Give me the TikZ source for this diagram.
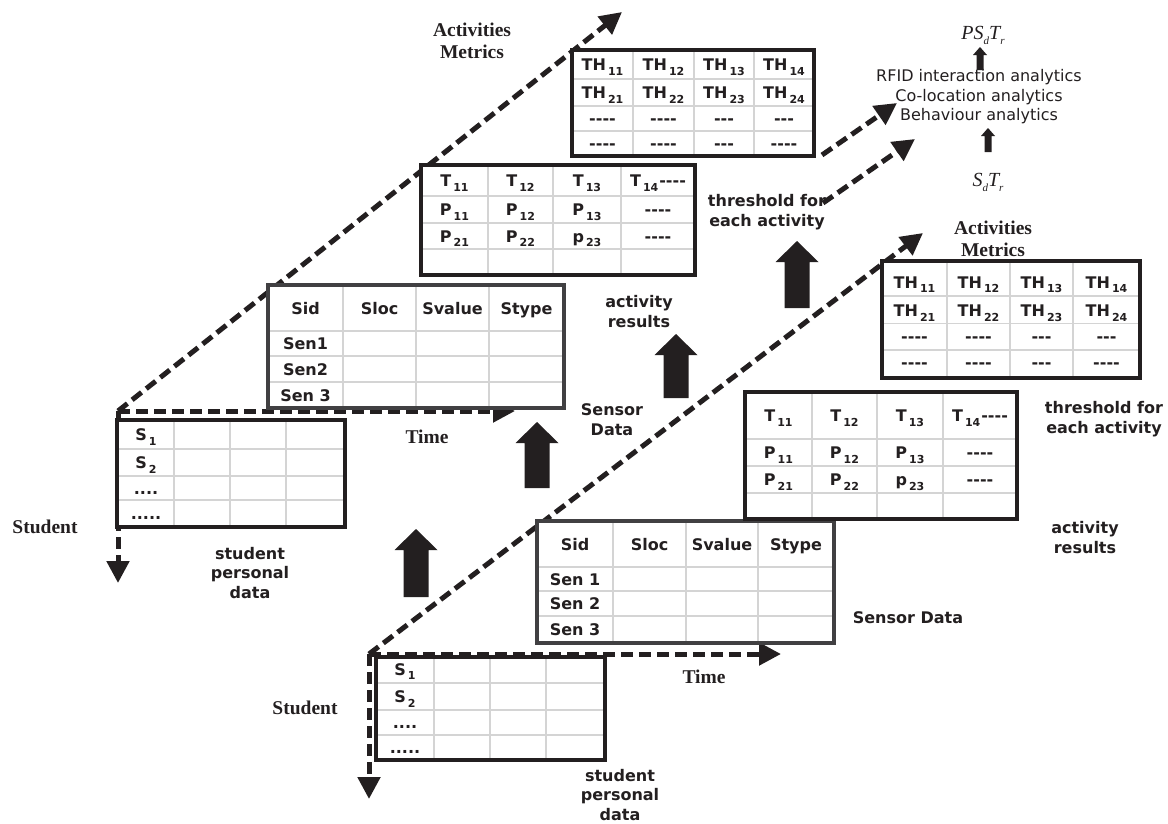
\documentclass[tikz,border=0pt]{standalone}
\usepackage{fontspec}
\setmainfont{Liberation Serif}
\newfontfamily\dvs{DejaVu Sans}
\usetikzlibrary{arrows.meta}
\definecolor{ink}{HTML}{231F20}
\definecolor{gridc}{HTML}{D4D4D4}
\definecolor{sfr}{HTML}{414042}
\newcommand\subs[1]{\kern2pt\raisebox{-4.5pt}[0pt][0pt]{\fontsize{11}{11}\selectfont #1}}
\newcommand\msub[1]{\raisebox{-4.5pt}[0pt][0pt]{\fontsize{11}{11}\selectfont #1}}
\newcommand\tbl[8]{%
  \fill[white] (#2,#3) rectangle (#4,#5);
  \foreach \xx in {#6} \draw[gridline] (\xx,#3) -- (\xx,#5);
  \foreach \yy in {#7} \draw[gridline] (#2,\yy) -- (#4,\yy);
  \draw[draw=#8, line width=4pt] (#2,#3) rectangle (#4,#5);
  \path (#2,#3) coordinate (#1-nw) (#4,#5) coordinate (#1-se);
}
\newcommand\cell[4]{\node[tcell] (#1) at (#2,#3) {#4};}
\newcommand\bigup[4]{\fill[ink] (#2-12.5,#3) -- (#2-12.5,#4+21) -- (#2-21.5,#4+21) -- (#2,#4) -- (#2+21.5,#4+21) -- (#2+12.5,#4+21) -- (#2+12.5,#3) -- cycle coordinate (#1);}
\newcommand\smallup[4]{\fill[ink] (#2-3.5,#3) -- (#2-3.5,#4+8) -- (#2-7,#4+8) -- (#2,#4) -- (#2+7,#4+8) -- (#2+3.5,#4+8) -- (#2+3.5,#3) -- cycle coordinate (#1);}
\tikzset{
  tcell/.style={font=\dvs\bfseries\fontsize{16}{16}\selectfont, text=ink, inner sep=0pt, anchor=base},
  lab/.style={font=\dvs\bfseries\fontsize{16}{19.5}\selectfont, text=ink, align=center, inner sep=0pt},
  slab/.style={font=\bfseries\fontsize{19.5}{22}\selectfont, text=ink, align=center, inner sep=0pt},
  ana/.style={font=\dvs\fontsize{16}{19.5}\selectfont, text=ink, align=center, inner sep=0pt},
  mlab/.style={font=\itshape\fontsize{20}{20}\selectfont, text=ink, inner sep=0pt},
  dasharrow/.style={draw=ink, line width=5pt, dash pattern=on 12pt off 6pt, -{Triangle[length=22pt,width=22pt]}},
  gridline/.style={draw=gridc, line width=1.2pt},
}
\begin{document}
\begin{tikzpicture}[x=1pt,y=-1pt]
\useasboundingbox (0,0) rectangle (1168,823);
% ---------- axes, group A ----------
\coordinate (oA) at (118,411);
\coordinate (timeAtip) at (515,411);
\coordinate (stuAtip) at (118,583);
\coordinate (metAtip) at (622,12);
\draw[dasharrow] (oA) -- (metAtip);
\draw[dasharrow] (oA) -- (timeAtip);
\draw[dasharrow] (oA) -- (stuAtip);
% ---------- axes, group B (diagonal) ----------
\coordinate (oB) at (369,654);
\coordinate (timeBtip) at (781,654);
\coordinate (stuBtip) at (369,799);
\coordinate (metBtip) at (923,233);
\draw[dasharrow] (oB) -- (metBtip);
% ---------- tables group A ----------
\tbl{stuA}{117}{420}{345}{527}{174,230,286}{449,476,500}{ink}
\cell{a11}{146}{440.5}{S\subs{1}}
\cell{a12}{146}{468.5}{S\subs{2}}
\cell{a13}{146}{494}{....}
\cell{a14}{146}{519.5}{.....}
\tbl{senA}{268}{285}{564}{408}{343,416,489}{331,356,382}{sfr}
\cell{b11}{305.5}{314}{Sid}
\cell{b12}{379.5}{314}{Sloc}
\cell{b13}{452.5}{314}{Svalue}
\cell{b14}{526.5}{314}{Stype}
\cell{b21}{305.5}{349.5}{Sen1}
\cell{b31}{305.5}{375}{Sen2}
\cell{b41}{305.5}{401}{Sen 3}
\tbl{tA}{421}{165}{695}{275}{488,553,621}{196,223,249}{ink}
\cell{c11}{454.5}{186.5}{T\subs{11}}
\cell{c12}{520.5}{186.5}{T\subs{12}}
\cell{c13}{587}{186.5}{T\subs{13}}
\cell{c14}{658}{186.5}{T\subs{14}\kern1pt----}
\cell{c21}{454.5}{215.5}{P\subs{11}}
\cell{c22}{520.5}{215.5}{P\subs{12}}
\cell{c23}{587}{215.5}{P\subs{13}}
\cell{c24}{658}{215.5}{----}
\cell{c31}{454.5}{242}{P\subs{21}}
\cell{c32}{520.5}{242}{P\subs{22}}
\cell{c33}{587}{242}{p\subs{23}}
\cell{c34}{658}{242}{----}
\tbl{thA}{572}{50}{814}{156}{633,694,754}{79,106,131}{ink}
\cell{d11}{602.5}{70.5}{TH\subs{11}}
\cell{d12}{663.5}{70.5}{TH\subs{12}}
\cell{d13}{724}{70.5}{TH\subs{13}}
\cell{d14}{784}{70.5}{TH\subs{14}}
\cell{d21}{602.5}{98.5}{TH\subs{21}}
\cell{d22}{663.5}{98.5}{TH\subs{22}}
\cell{d23}{724}{98.5}{TH\subs{23}}
\cell{d24}{784}{98.5}{TH\subs{24}}
\cell{d31}{602.5}{124.5}{----}
\cell{d32}{663.5}{124.5}{----}
\cell{d33}{724}{124.5}{---}
\cell{d34}{784}{124.5}{---}
\cell{d41}{602.5}{149.5}{----}
\cell{d42}{663.5}{149.5}{----}
\cell{d43}{724}{149.5}{---}
\cell{d44}{784}{149.5}{----}
% ---------- tables group B ----------
\tbl{stuB}{376}{657}{605}{760}{434,490,546}{683,710,735}{ink}
\draw[dasharrow] (oB) -- (timeBtip);
\draw[dasharrow] (oB) -- (stuBtip);
\cell{e11}{405}{675}{S\subs{1}}
\cell{e12}{405}{702.5}{S\subs{2}}
\cell{e13}{405}{728.5}{....}
\cell{e14}{405}{753.5}{.....}
\tbl{senB}{537}{521}{834}{643}{613,686,758}{567,591,616}{sfr}
\cell{f11}{575}{550}{Sid}
\cell{f12}{649.5}{550}{Sloc}
\cell{f13}{722}{550}{Svalue}
\cell{f14}{796}{550}{Stype}
\cell{f21}{575}{585}{Sen 1}
\cell{f31}{575}{609.5}{Sen 2}
\cell{f41}{575}{635.5}{Sen 3}
\tbl{tB}{745}{392}{1017}{519}{812,877,943}{439,466,493}{ink}
\cell{g11}{778.5}{421.5}{T\subs{11}}
\cell{g12}{844.5}{421.5}{T\subs{12}}
\cell{g13}{910}{421.5}{T\subs{13}}
\cell{g14}{980}{421.5}{T\subs{14}\kern1pt----}
\cell{g21}{778.5}{458.5}{P\subs{11}}
\cell{g22}{844.5}{458.5}{P\subs{12}}
\cell{g23}{910}{458.5}{P\subs{13}}
\cell{g24}{980}{458.5}{----}
\cell{g31}{778.5}{485.5}{P\subs{21}}
\cell{g32}{844.5}{485.5}{P\subs{22}}
\cell{g33}{910}{485.5}{p\subs{23}}
\cell{g34}{980}{485.5}{----}
\tbl{thB}{882}{261}{1140}{378}{947,1010,1073}{296,323.5,350}{ink}
\cell{h11}{914.5}{288}{TH\subs{11}}
\cell{h12}{978.5}{288}{TH\subs{12}}
\cell{h13}{1041.5}{288}{TH\subs{13}}
\cell{h14}{1106.5}{288}{TH\subs{14}}
\cell{h21}{914.5}{316.5}{TH\subs{21}}
\cell{h22}{978.5}{316.5}{TH\subs{22}}
\cell{h23}{1041.5}{316.5}{TH\subs{23}}
\cell{h24}{1106.5}{316.5}{TH\subs{24}}
\cell{h31}{914.5}{342}{----}
\cell{h32}{978.5}{342}{----}
\cell{h33}{1041.5}{342}{---}
\cell{h34}{1106.5}{342}{---}
\cell{h41}{914.5}{368}{----}
\cell{h42}{978.5}{368}{----}
\cell{h43}{1041.5}{368}{---}
\cell{h44}{1106.5}{368}{----}
% ---------- labels ----------
\node[slab] (actA) at (472,41) {Activities\\Metrics};
\node[slab] (actB) at (993,239) {Activities\\Metrics};
\node[lab] (thrA) at (767,212) {threshold for\\each activity};
\node[lab] (thrB) at (1104,419) {threshold for\\each activity};
\node[lab] (resA) at (639,311.5) {activity\\results};
\node[lab] (resB) at (1085,537.5) {activity\\results};
\node[lab] (sdA) at (612,419.5) {Sensor\\Data};
\node[lab] (sdB) at (908,618) {Sensor Data};
\node[slab] (timeA) at (427,437) {Time};
\node[slab] (timeB) at (704,677) {Time};
\node[slab] (stA) at (45,527) {Student};
\node[slab] (stB) at (305,708) {Student};
\node[lab] (spA) at (250,573) {student\\personal\\data};
\node[lab] (spB) at (620,795) {student\\personal\\data};
\node[ana] (ana) at (979,97) {RFID interaction analytics\\Co-location analytics\\Behaviour analytics};
\node[mlab] (psdtr) at (983,33) {PS\msub{d}T\msub{r}};
\node[mlab] (sdtr) at (988,180) {S\msub{d}T\msub{r}};
% ---------- dashed arrows to analytics ----------
\coordinate (fromTH) at (822,155);
\coordinate (toAnaA) at (897,103);
\coordinate (fromThr) at (823,203);
\coordinate (toAnaB) at (915,139);
\draw[dasharrow] (fromTH) -- (toAnaA);
\draw[dasharrow] (fromThr) -- (toAnaB);
% ---------- block arrows ----------
\bigup{up1}{537}{488}{422}
\bigup{up2}{676}{398}{334}
\bigup{up3}{797}{308}{241}
\bigup{up4}{416}{597}{529}
\smallup{su1}{980}{70}{47}
\smallup{su2}{988}{152}{128}
\end{tikzpicture}
\end{document}
